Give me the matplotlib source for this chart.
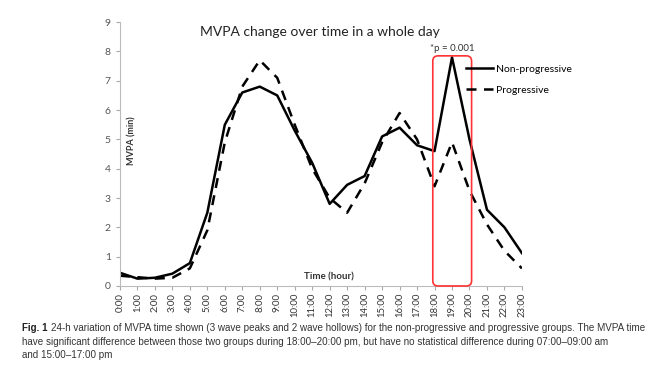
import matplotlib
matplotlib.use("Agg")
import matplotlib.pyplot as plt
from matplotlib.patches import FancyBboxPatch

hours = [f"{h}:00" for h in range(24)]
non_progressive = [0.45, 0.25, 0.28, 0.42, 0.78, 2.5, 5.5, 6.6, 6.8, 6.5, 5.3, 4.2,
                   2.8, 3.45, 3.75, 5.1, 5.4, 4.8, 4.6, 7.8, 5.0, 2.6, 2.0, 1.12]
progressive = [0.35, 0.3, 0.25, 0.28, 0.6, 1.9, 4.9, 6.8, 7.7, 7.1, 5.5, 4.0,
               3.0, 2.5, 3.5, 4.9, 5.9, 5.0, 3.4, 4.9, 3.25, 2.1, 1.2, 0.6]
y_ticks = list(range(10))
sig_start, sig_end = 17.9, 20.12
sig_label = "*p = 0.001"

plt.rcParams["font.family"] = ["Lato", "DejaVu Sans"]

fig = plt.figure(figsize=(6.59, 3.69), dpi=100)
ax = fig.add_axes([0.182, 0.225, 0.61, 0.715])

x = list(range(len(hours)))
ax.plot(x, non_progressive, color="black", lw=1.8, label="Non-progressive")
ax.plot(x, progressive, color="black", lw=1.8, ls=(0, (4, 3)), label="Progressive")

ax.set_xlim(0, 23)
ax.set_ylim(0, 9)
ax.set_xticks(x)
ax.set_xticklabels(hours, rotation=90, fontsize=6.8, color="#333333")
ax.set_yticks(y_ticks)
ax.tick_params(axis="y", labelsize=7.5, colors="#555555", length=3, color="#aaaaaa")
ax.tick_params(axis="x", length=3, color="#aaaaaa", pad=2)
for side in ["top", "right"]:
    ax.spines[side].set_visible(False)
for side in ["left", "bottom"]:
    ax.spines[side].set_color("#bbbbbb")

# red box around the significant window
box = FancyBboxPatch((sig_start, 0), sig_end - sig_start, 7.85,
                     boxstyle="round,pad=0,rounding_size=0.3", mutation_aspect=0.6,
                     fill=False, edgecolor="#ff3333", lw=1.2, clip_on=False, zorder=3)
ax.add_patch(box)
ax.text(19, 7.95, sig_label, ha="center", va="bottom", fontsize=7, color="#333333")

ax.legend(loc="upper left", bbox_to_anchor=(0.85, 0.855), frameon=False, fontsize=7.5,
          handlelength=2.6, labelspacing=1.1, handletextpad=0.3, borderaxespad=0)

fig.text(320 / 659, 1 - 32 / 369, "MVPA change over time in a whole day",
         ha="center", va="center", fontsize=10, color="#222222")
ax.text(0.03, 0.55, "MVPA (min)", transform=ax.transAxes, rotation=90,
        ha="center", va="center", fontsize=6.5, fontweight="bold", color="#333333")
ax.text(0.52, 0.035, "Time (hour)", transform=ax.transAxes, ha="center", va="center",
        fontsize=7, fontweight="bold", color="#333333")

cap_font = ["Liberation Sans Narrow", "Liberation Sans", "DejaVu Sans"]
fig.text(22 / 659, 1 - 328 / 369, "Fig. 1", fontsize=7, fontweight="bold",
         family=cap_font, va="center", color="#222222")
fig.text(51 / 659, 1 - 328 / 369,
         "24-h variation of MVPA time shown (3 wave peaks and 2 wave hollows) for the non-progressive "
         "and progressive groups. The MVPA time",
         fontsize=7.1, family=cap_font, va="center", color="#333333")
fig.text(22 / 659, 1 - 342 / 369,
         "have significant difference between those two groups during 18:00\u201320:00 pm, but have no "
         "statistical difference during 07:00\u201309:00 am",
         fontsize=7.1, family=cap_font, va="center", color="#333333")
fig.text(22 / 659, 1 - 355 / 369, "and 15:00\u201317:00 pm",
         fontsize=7.1, family=cap_font, va="center", color="#333333")

fig.savefig("out.png", dpi=100)
